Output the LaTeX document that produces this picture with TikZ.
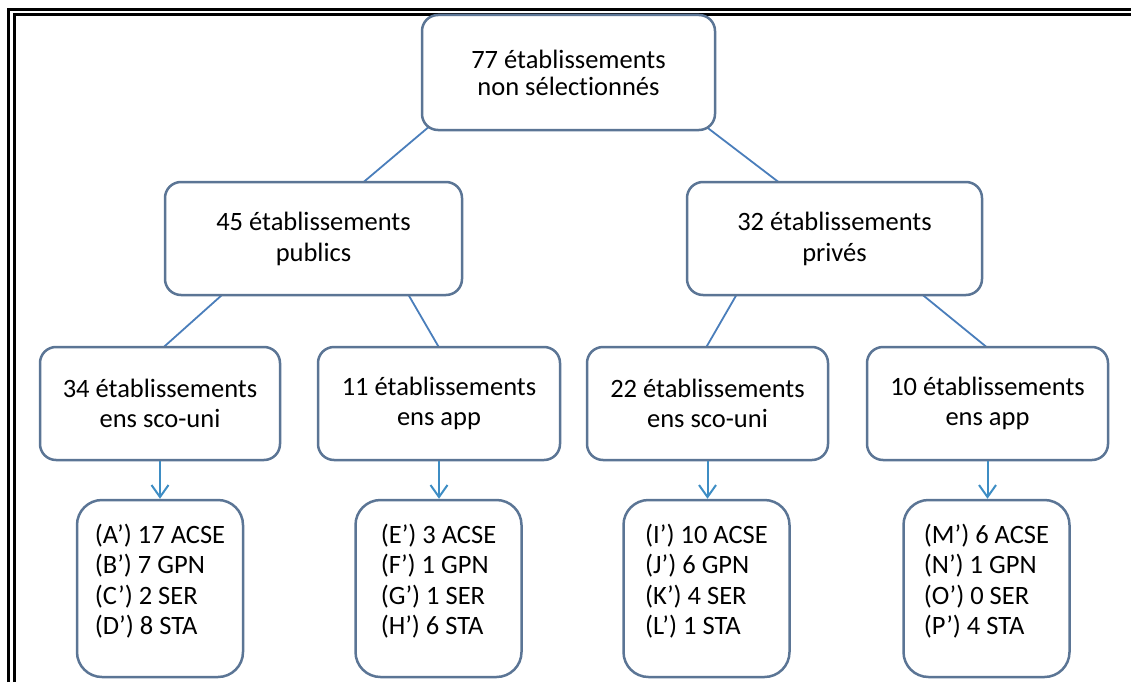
\documentclass[tikz,border=0pt]{standalone}
\usepackage{fontspec}
\setmainfont{Carlito}[Ligatures=NoCommon]
\usetikzlibrary{arrows.meta,backgrounds}
\definecolor{boxc}{HTML}{5B7595}
\definecolor{linec}{HTML}{4A7EBB}
\definecolor{arrc}{HTML}{3E8DC4}
\newcommand{\leafpad}{\rule[-18pt]{0pt}{0pt}}
\begin{document}
\begin{tikzpicture}[x=1pt,y=-1pt,
  box/.style={draw=boxc, line width=2.5pt, fill=white, rounded corners=16pt, inner sep=0pt,
    align=center, minimum height=113pt, font=\fontsize{26.5}{29.5}\selectfont},
  leaf/.style={draw=boxc, line width=2.5pt, fill=white, rounded corners=25pt, inner sep=0pt,
    align=left, minimum width=166pt, minimum height=177pt, font=\fontsize{26.5}{30.5}\selectfont},
  conn/.style={draw=linec, line width=1.8pt},
  arr/.style={draw=arrc, line width=2pt, -{Straight Barb[length=12pt,width=17pt]}},
  frameline/.style={draw=black, line width=2.8pt}]

\useasboundingbox (0,0) rectangle (1131,682);

% frame (top and left only)
\draw[frameline] (8.7,682) -- (8.7,9.3) -- (1131,9.3);
\draw[frameline] (14.2,682) -- (14.2,14.7) -- (1131,14.7);

% nodes
\node[box, minimum width=293pt, minimum height=115pt, font=\fontsize{26.5}{27}\selectfont] (top) at (568.5,72.5) {77 établissements\\non sélectionnés};
\node[box, minimum width=297pt, font=\fontsize{26.5}{31}\selectfont] (pub) at (313.5,238.5) {45 établissements\\publics};
\node[box, minimum width=295pt, font=\fontsize{26.5}{31}\selectfont] (priv) at (834.5,238.5) {32 établissements\\privés};

\node[box, minimum width=240pt] (c1) at (160,403.5) {34 établissements\\ens sco-uni};
\node[box, minimum width=242pt] (c2) at (439,403.5) {11 établissements\\ens app};
\node[box, minimum width=241pt] (c3) at (707.5,403.5) {22 établissements\\ens sco-uni};
\node[box, minimum width=241pt] (c4) at (987.5,403.5) {10 établissements\\ens app};

\node[leaf] (lA) at (160,588.5) {(A’) 17 ACSE\\(B’) 7 GPN\\(C’) 2 SER\\(D’) 8 STA\leafpad};
\node[leaf] (lE) at (438.5,588.5) {(E’) 3 ACSE\\(F’) 1 GPN\\(G’) 1 SER\\(H’) 6 STA\leafpad};
\node[leaf] (lI) at (706.5,588.5) {(I’) 10 ACSE\\(J’) 6 GPN\\(K’) 4 SER\\(L’) 1 STA\leafpad};
\node[leaf] (lM) at (986.5,588.5) {(M’) 6 ACSE\\(N’) 1 GPN\\(O’) 0 SER\\(P’) 4 STA\leafpad};

% connectors behind the boxes
\begin{scope}[on background layer]
\draw[conn] ([xshift=8.8pt,yshift=5pt]top.south west) -- ([xshift=45.7pt,yshift=-5pt]pub.north);
\draw[conn] ([xshift=-13pt,yshift=6.7pt]top.south east) -- ([xshift=-51.5pt,yshift=-4.7pt]priv.north);
\draw[conn] ([xshift=62.4pt,yshift=5pt]pub.south west) -- ([xshift=-0.4pt,yshift=-5pt]c1.north);
\draw[conn] ([xshift=-56.9pt,yshift=5pt]pub.south east) -- ([xshift=1.9pt,yshift=-5pt]c2.north);
\draw[conn] ([xshift=52.8pt,yshift=5pt]priv.south west) -- ([xshift=-3.3pt,yshift=-5pt]c3.north);
\draw[conn] ([xshift=-65.1pt,yshift=5pt]priv.south east) -- ([xshift=3.6pt,yshift=-5pt]c4.north);
\end{scope}

% arrows
\draw[arr] (c1.south) -- (c1.south |- lA.north);
\draw[arr] (c2.south) -- (c2.south |- lE.north);
\draw[arr] (c3.south) -- (c3.south |- lI.north);
\draw[arr] (c4.south) -- (c4.south |- lM.north);
\end{tikzpicture}
\end{document}
